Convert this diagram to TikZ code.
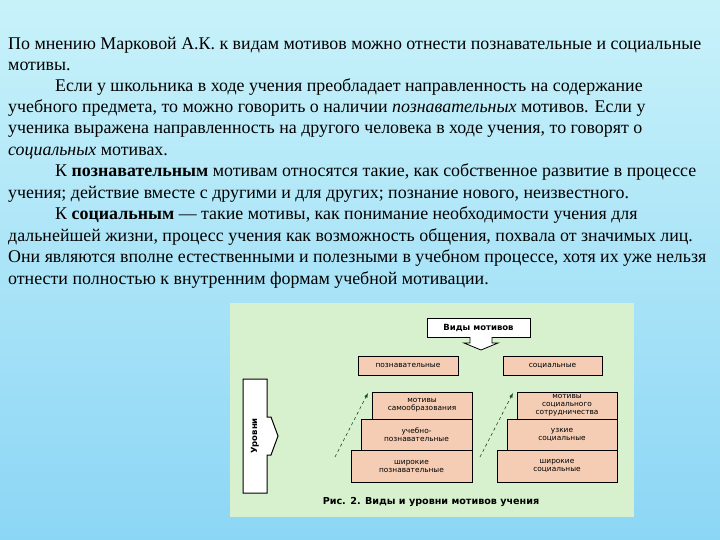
\documentclass[tikz,border=0pt]{standalone}
\usepackage{fontspec}
\setmainfont{Liberation Serif}
\newfontfamily\dv{DejaVu Sans}
\definecolor{bgtop}{RGB}{200,242,250}
\definecolor{bgbot}{RGB}{140,214,245}
\definecolor{panel}{RGB}{215,240,205}
\definecolor{boxc}{RGB}{245,205,180}
\definecolor{arr}{RGB}{20,70,40}
\begin{document}
\begin{tikzpicture}[x=1bp,y=-1bp,
 txt/.style={anchor=base west,inner sep=0,font=\fontsize{17.9bp}{20bp}\selectfont},
 bx/.style={draw=black,line width=1bp,fill=boxc,align=center,font=\dv\fontsize{7.4bp}{8bp}\selectfont,inner sep=0},
 up/.style={-latex,dashed,line width=0.6bp,draw=arr}]
\shade[top color=bgtop,bottom color=bgbot] (0,0) rectangle (720,540);
\useasboundingbox (0,0) rectangle (720,540);
\node[txt] (l1) at (8,50) {По мнению Марковой А.К. к видам мотивов можно отнести познавательные и социальные};
\node[txt] (l2) at (8,71) {мотивы.};
\node[txt] (l3) at (55,92) {Если у школьника в ходе учения преобладает направленность на содержание};
\node[txt] (l4) at (8,113) {учебного предмета, то можно говорить о наличии \textit{познавательных} мотивов. Если у};
\node[txt] (l5) at (8,134) {ученика выражена направленность на другого человека в ходе учения, то говорят о};
\node[txt] (l6) at (8,156) {\textit{социальных} мотивах.};
\node[txt] (l7) at (55,177) {К \textbf{познавательным} мотивам относятся такие, как собственное развитие в процессе};
\node[txt] (l8) at (8,199) {учения; действие вместе с другими и для других; познание нового, неизвестного.};
\node[txt] (l9) at (55,220) {К \textbf{социальным} — такие мотивы, как понимание необходимости учения для};
\node[txt] (l10) at (8,242) {дальнейшей жизни, процесс учения как возможность общения, похвала от значимых лиц.};
\node[txt] (l11) at (8,263) {Они являются вполне естественными и полезными в учебном процессе, хотя их уже нельзя};
\node[txt] (l12) at (8,285) {отнести полностью к внутренним формам учебной мотивации.};
% panel
\fill[panel] (230,303) rectangle (634,517);
\node[draw,line width=1bp,fill=white,minimum width=103bp,minimum height=19bp,inner sep=0,font=\dv\bfseries\fontsize{8.5bp}{9bp}\selectfont] (vm) at (478.5,327.5) {Виды мотивов};
\draw[line width=0.8bp,fill=white] (470,337) -- (470,343) -- (464,343) -- (481,350) -- (498,343) -- (492,343) -- (492,337);
\node[bx,minimum width=100bp,minimum height=19bp] (p) at (408,365.5) {познавательные};
\node[bx,minimum width=99bp,minimum height=19bp] (s) at (552.5,365.5) {социальные};
\node[bx,minimum width=121bp,minimum height=32bp] (p1) at (411.5,466) {широкие\\познавательные};
\node[bx,minimum width=111bp,minimum height=31bp] (p2) at (416.5,434.5) {учебно-\\познавательные};
\node[bx,minimum width=100bp,minimum height=27bp] (p3) at (422,405.5) {мотивы\\самообразования};
\node[bx,minimum width=120bp,minimum height=32bp] (s1) at (557,466) {широкие\\социальные};
\node[bx,minimum width=110bp,minimum height=31bp] (s2) at (562,434.5) {узкие\\социальные};
\node[bx,minimum width=100bp,minimum height=27bp] (s3) at (567,405.5) {мотивы\\социального\\сотрудничества};
\coordinate (a1) at (335,457); \coordinate (a2) at (368,393);
\coordinate (b1) at (480,457); \coordinate (b2) at (513,393);
\draw[up] (a1) -- (a2);
\draw[up] (b1) -- (b2);
\draw[line width=1bp,fill=white] (243,379) -- (267,379) -- (267,417) -- (271,417) -- (278,436) -- (271,455) -- (267,455) -- (267,493) -- (243,493) -- cycle;
\node[rotate=90,font=\dv\bfseries\fontsize{8.5bp}{9bp}\selectfont] (ur) at (255,436) {Уровни};
\node[font=\dv\bfseries\fontsize{9.6bp}{10bp}\selectfont] (cap) at (431,502) {Рис. 2. Виды и уровни мотивов учения};
\end{tikzpicture}
\end{document}
